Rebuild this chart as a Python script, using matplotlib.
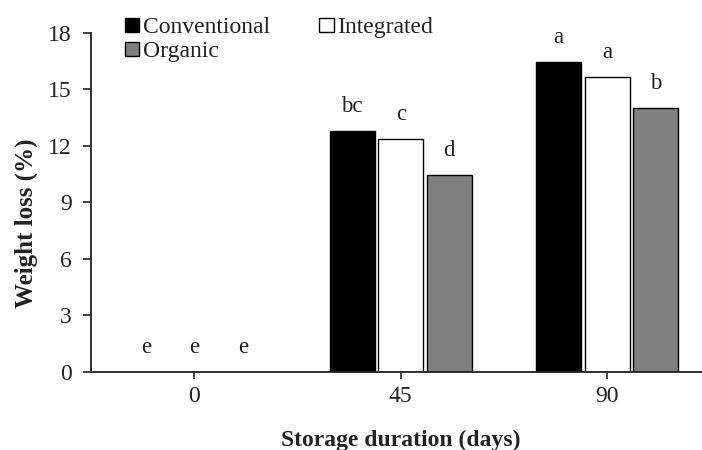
import numpy as np
import matplotlib
matplotlib.use("Agg")
import matplotlib.pyplot as plt

plt.rcParams['font.family'] = ['Liberation Serif', 'DejaVu Serif']

# data
days = ["0", "45", "90"]
conventional = [0.0, 12.8, 16.46]
integrated = [0.0, 12.34, 15.67]
organic = [0.0, 10.43, 13.99]
letters_conv = ["e", "bc", "a"]
letters_int = ["e", "c", "a"]
letters_org = ["e", "d", "b"]

fig = plt.figure(figsize=(7.02, 4.5), dpi=100)
ax = fig.add_axes([91/702, 1 - 371.7/450, 619.5/702, 339/450])

x = np.arange(len(days))
w = 0.218
step = 0.235

series = [
    (conventional, "black", "Conventional", letters_conv),
    (integrated, "white", "Integrated", letters_int),
    (organic, "#808080", "Organic", letters_org),
]

handles = []
for i, (vals, col, name, lets) in enumerate(series):
    pos = x + (i - 1) * step
    b = ax.bar(pos, vals, width=w, color=col, edgecolor="black", linewidth=1.0, label=name)
    handles.append(b)
    for p, v, t in zip(pos, vals, lets):
        ax.text(p, v + 1.3, t, ha="center", va="center", fontsize=16.5, color="#222222")

ax.set_xlim(-0.5, 2.5)
ax.set_ylim(0, 18)
ax.set_yticks([0, 3, 6, 9, 12, 15, 18])
ax.set_xticks(x)
ax.set_xticklabels(days)

for s in ["top", "right"]:
    ax.spines[s].set_visible(False)
for s in ["left", "bottom"]:
    ax.spines[s].set_linewidth(1.3)
    ax.spines[s].set_color("#222222")

ax.tick_params(axis="y", length=6, width=1.2, pad=8, labelsize=17, colors="#222222")
ax.tick_params(axis="x", length=5, width=1.2, pad=5, labelsize=17, colors="#222222")

fig.text(26/702, 1 - 223/450, "Weight loss (%)", rotation=90, ha="center", va="center",
         fontsize=18, fontweight="bold", color="#222222")
fig.text(401/702, 1 - 440/450, "Storage duration (days)", ha="center", va="center",
         fontsize=17, fontweight="bold", color="#222222")

# legend: Conventional / Organic in first column, Integrated in second
leg = fig.legend([handles[0], handles[2], handles[1]],
                 ["Conventional", "Organic", "Integrated"],
                 ncol=2, loc="upper left", bbox_to_anchor=(125/702, 1 - 17/450),
                 frameon=False, fontsize=17, handlelength=0.6, handleheight=0.55,
                 handletextpad=0.15, columnspacing=2.1, labelspacing=0.14,
                 borderpad=0, borderaxespad=0)
for t in leg.get_texts():
    t.set_color("#222222")

fig.savefig("out.png", dpi=100)
